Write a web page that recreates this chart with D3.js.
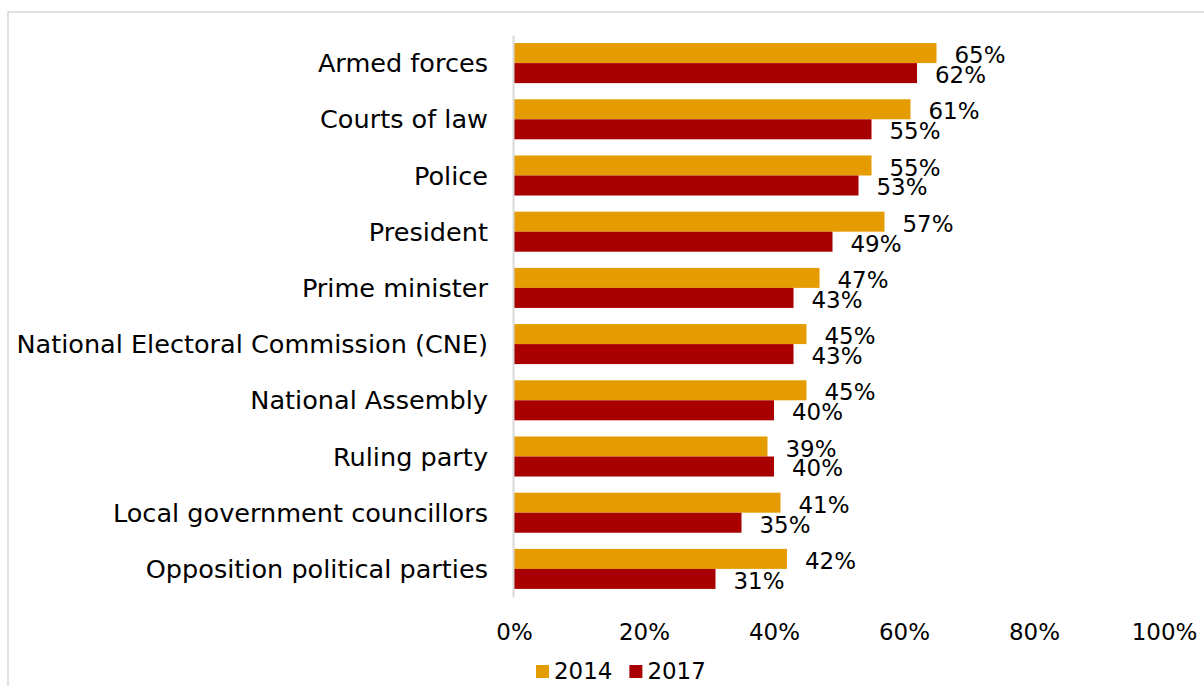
<!DOCTYPE html>
<html>
<head>
<meta charset="utf-8">
<script src="https://cdn.jsdelivr.net/npm/d3@7"></script>
<style>
  html, body { margin: 0; padding: 0; background: #fff; }
  svg { display: block; }
  text { font-family: "Century Gothic", "DejaVu Sans", sans-serif; fill: #000; }
</style>
</head>
<body>
<svg id="chart" width="1204" height="686"></svg>
<script>
// Trust in institutions, share of respondents
const categories = [
  "Armed forces",
  "Courts of law",
  "Police",
  "President",
  "Prime minister",
  "National Electoral Commission (CNE)",
  "National Assembly",
  "Ruling party",
  "Local government councillors",
  "Opposition political parties"
];
const seriesNames = ["2014", "2017"];
const values2014 = [0.65, 0.61, 0.55, 0.57, 0.47, 0.45, 0.45, 0.39, 0.41, 0.42];
const values2017 = [0.62, 0.55, 0.53, 0.49, 0.43, 0.43, 0.40, 0.40, 0.35, 0.31];
const tickValues = [0, 0.2, 0.4, 0.6, 0.8, 1.0];
const colors = ["#E59C00", "#A80000"];

const seriesValues = [values2014, values2017];
const rows = categories.map((c, i) => ({
  category: c,
  values: seriesNames.map((s, j) => ({ series: s, value: seriesValues[j][i], idx: j }))
}));

const svg = d3.select("#chart");
const W = 1204, H = 686;

svg.append("rect").attr("width", W).attr("height", H).attr("fill", "#fff");

// chart area frame
svg.append("rect")
  .attr("x", 8).attr("y", 12)
  .attr("width", W + 20).attr("height", H + 20)
  .attr("fill", "none")
  .attr("stroke", "#d9d9d9")
  .attr("stroke-width", 1.6);

const plot = { left: 514, right: 1164, top: 35, bottom: 597 };

const x = d3.scaleLinear().domain([0, 1]).range([plot.left, plot.right]);
const y = d3.scaleBand().domain(categories)
  .range([plot.top, plot.bottom])
  .paddingInner(0.288).paddingOuter(0.144);
const ySub = d3.scaleBand().domain(seriesNames).range([0, y.bandwidth()]);
const color = d3.scaleOrdinal().domain(seriesNames).range(colors);
const pct = d3.format(".0%");

// font sizes fitted to the available room
function fitSize(sample, target) {
  const t = svg.append("text").attr("font-size", 24).text(sample);
  const w = t.node().getComputedTextLength();
  t.remove();
  return 24 * target / w;
}
const catSize = fitSize("National Electoral Commission (CNE)", 472);
const numSize = fitSize("20%", 51);

// bars
const groups = svg.append("g").selectAll("g")
  .data(rows).join("g")
  .attr("transform", d => `translate(0,${y(d.category)})`);

groups.selectAll("rect")
  .data(d => d.values).join("rect")
  .attr("x", x(0))
  .attr("y", d => ySub(d.series))
  .attr("width", d => x(d.value) - x(0))
  .attr("height", ySub.bandwidth())
  .attr("fill", d => color(d.series));

// value labels
groups.selectAll("text")
  .data(d => d.values).join("text")
  .attr("x", d => x(d.value) + 18)
  .attr("y", d => ySub(d.series) + ySub.bandwidth() / 2 + 2)
  .attr("dominant-baseline", "central")
  .attr("font-size", numSize)
  .text(d => pct(d.value));

// category axis
const yAxis = svg.append("g")
  .attr("transform", `translate(${plot.left - 1},0)`)
  .call(d3.axisLeft(y).tickSize(0).tickPadding(25));
yAxis.attr("font-family", null);
yAxis.select(".domain").attr("stroke", "#d9d9d9").attr("stroke-width", 2);
yAxis.selectAll("text")
  .attr("font-size", catSize)
  .attr("fill", "#000")
  .attr("dy", null)
  .attr("dominant-baseline", "central");

// value axis (labels only)
const xAxis = svg.append("g")
  .attr("transform", `translate(0,${plot.bottom})`)
  .call(d3.axisBottom(x).tickValues(tickValues).tickSize(0).tickFormat(pct));
xAxis.attr("font-family", null);
xAxis.select(".domain").remove();
xAxis.selectAll("text")
  .attr("font-size", numSize)
  .attr("fill", "#000")
  .attr("dy", null)
  .attr("y", 35)
  .attr("dominant-baseline", "central");

// legend
const legend = svg.append("g");
let lx = 536;
seriesNames.forEach(s => {
  legend.append("rect")
    .attr("x", lx).attr("y", 665)
    .attr("width", 13).attr("height", 13)
    .attr("fill", color(s));
  const t = legend.append("text")
    .attr("x", lx + 18).attr("y", 671)
    .attr("dominant-baseline", "central")
    .attr("font-size", numSize)
    .text(s);
  lx = lx + 18 + t.node().getComputedTextLength() + 17;
});
</script>
</body>
</html>
